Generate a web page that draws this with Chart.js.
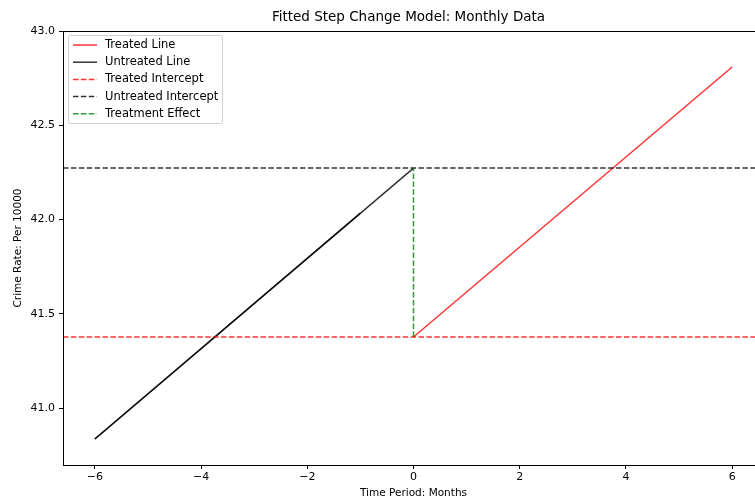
<!DOCTYPE html>
<html lang="en">
<head>
<meta charset="utf-8"/>
<title>Fitted Step Change Model</title>
<script src="https://cdn.jsdelivr.net/npm/chart.js"></script>
<style>
  html, body { margin: 0; padding: 0; background: #fff; overflow: hidden; }
  #wrap { width: 770px; height: 500px; }
</style>
</head>
<body>
<div id="wrap"><canvas id="chart"></canvas></div>
<script>
// axis range and ticks
const xMin = -6.6, xMax = 6.6;
const yMin = 40.698, yMax = 43.0;
const xTicks = [-6, -4, -2, 0, 2, 4, 6];
const yTicks = [41.0, 41.5, 42.0, 42.5, 43.0];

// fitted values
const untreatedX = [-6, 0];
const untreatedY = [40.836, 42.273];
const preX = [-6, -1];          // pre-period part, drawn twice in the original
const preY = [40.836, 42.034];
const treatedX = [0, 6];
const treatedY = [41.377, 42.809];
const treatedIntercept = 41.377;
const untreatedIntercept = 42.273;

const chartTitle = 'Fitted Step Change Model: Monthly Data';

const pts = (xs, ys) => xs.map((x, i) => ({x: x, y: ys[i]}));

const RED = 'rgba(255,0,0,0.8)';
const BLACK = 'rgba(0,0,0,0.8)';
const GREEN = 'rgba(0,128,0,0.8)';
const DASH = [5.5, 2.4];

const datasets = [
  {label: 'Treated Line', data: pts(treatedX, treatedY), borderColor: RED, order: 5},
  {label: 'Untreated Line', data: pts(untreatedX, untreatedY), borderColor: BLACK, order: 4},
  {label: '', data: pts(preX, preY), borderColor: BLACK, order: 4, hideLegend: true},
  {label: 'Treated Intercept', data: pts([xMin, xMax], [treatedIntercept, treatedIntercept]), borderColor: RED, borderDash: DASH, order: 3},
  {label: 'Untreated Intercept', data: pts([xMin, xMax], [untreatedIntercept, untreatedIntercept]), borderColor: BLACK, borderDash: DASH, order: 2},
  {label: 'Treatment Effect', data: pts([0, 0], [treatedIntercept, untreatedIntercept]), borderColor: GREEN, borderDash: DASH, order: 1}
];
datasets.forEach(d => { d.borderWidth = 1.5; d.pointRadius = 0; d.fill = false; d.tension = 0; });

// title, frame round the plot area and a matplotlib style legend inside it
const framePlugin = {
  id: 'frame',
  afterDraw(chart) {
    const {ctx, chartArea: a} = chart;
    ctx.save();
    ctx.fillStyle = '#000';
    ctx.font = '13.5px "DejaVu Sans"';
    ctx.textAlign = 'center';
    ctx.textBaseline = 'middle';
    ctx.fillText(chartTitle, (a.left + a.right) / 2 - 5, 17.5);
    ctx.textAlign = 'left';

    ctx.strokeStyle = '#000';
    ctx.lineWidth = 1;
    ctx.strokeRect(a.left + 0.5, a.top + 0.5, a.right - a.left, a.bottom - a.top);

    const items = chart.data.datasets.filter(d => !d.hideLegend);
    const bx = 68.5, by = 35.5, bw = 154, bh = 88;
    ctx.fillStyle = 'rgba(255,255,255,0.8)';
    ctx.strokeStyle = '#d0d0d0';
    ctx.beginPath();
    ctx.roundRect(bx, by, bw, bh, 2);
    ctx.fill();
    ctx.stroke();
    ctx.font = '11.5px "DejaVu Sans"';
    items.forEach((d, i) => {
      const y = 45 + i * 17.2;
      ctx.strokeStyle = d.borderColor;
      ctx.lineWidth = 1.5;
      ctx.setLineDash(d.borderDash || []);
      ctx.beginPath();
      ctx.moveTo(73, y);
      ctx.lineTo(97, y);
      ctx.stroke();
      ctx.setLineDash([]);
      ctx.fillStyle = '#000';
      ctx.fillText(d.label, 105, y);
    });
    ctx.restore();
  }
};

const tickFont = {family: 'DejaVu Sans', size: 11};
const labelFont = {family: 'DejaVu Sans', size: 10.5};

new Chart(document.getElementById('chart'), {
  type: 'line',
  data: {datasets: datasets},
  plugins: [framePlugin],
  options: {
    responsive: true,
    maintainAspectRatio: false,
    animation: false,
    layout: {padding: {left: 0, right: 6, top: 31, bottom: 0}},
    plugins: {
      legend: {display: false},
      tooltip: {enabled: false},
      title: {display: false}
    },
    scales: {
      x: {
        type: 'linear',
        min: xMin,
        max: xMax,
        afterBuildTicks: s => { s.ticks = xTicks.map(v => ({value: v})); },
        afterFit: s => { s.height = 35; },
        border: {display: false},
        grid: {drawOnChartArea: false, drawTicks: true, tickLength: 4, color: '#000'},
        ticks: {
          color: '#000', font: tickFont, padding: 2, maxRotation: 0,
          callback: v => String(v).replace('-', '\u2212')
        },
        title: {display: true, text: 'Time Period: Months', color: '#000', font: labelFont, padding: {top: 0, bottom: 0}}
      },
      y: {
        type: 'linear',
        min: yMin,
        max: yMax,
        afterBuildTicks: s => { s.ticks = yTicks.map(v => ({value: v})); },
        afterFit: s => { s.width = 63; },
        border: {display: false},
        grid: {drawOnChartArea: false, drawTicks: true, tickLength: 4, color: '#000'},
        ticks: {color: '#000', font: tickFont, padding: 4, callback: v => v.toFixed(1)},
        title: {display: true, text: 'Crime Rate: Per 10000', color: '#000', font: labelFont, padding: {top: 12, bottom: 0}}
      }
    }
  }
});
</script>
</body>
</html>
